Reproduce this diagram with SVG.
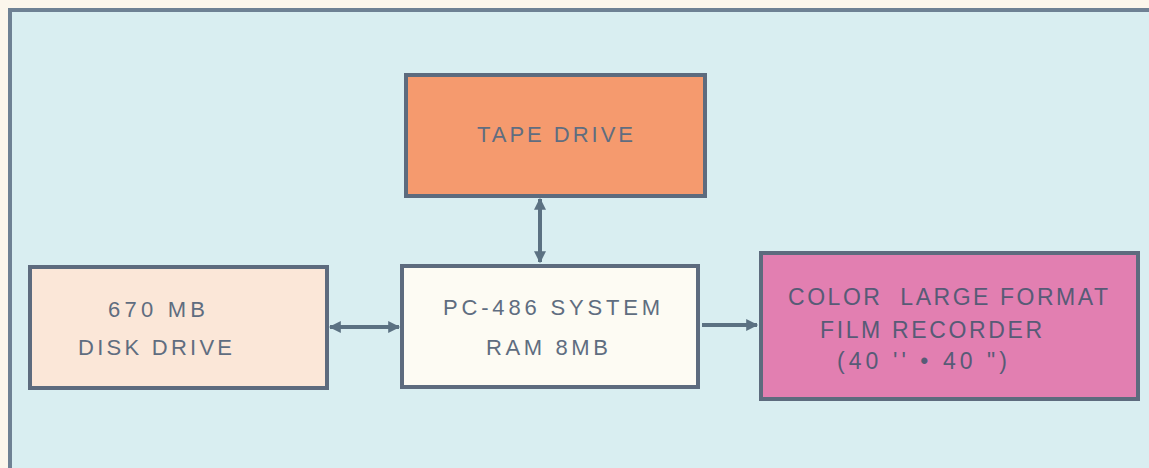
<svg xmlns="http://www.w3.org/2000/svg" width="1149" height="468" viewBox="0 0 1149 468">
<style>
.box{stroke:#5d6b7e;stroke-width:4}
.lbl{font-family:"Liberation Sans",Arial,sans-serif;font-size:22px;fill:#5f6d80;white-space:pre}
.dark{fill:#575b76;font-size:23px}
.con{stroke:#5b7182;stroke-width:4;fill:none}
</style>
<defs>
<marker id="ah" viewBox="0 0 10 10" refX="9" refY="5" markerWidth="3.2" markerHeight="3" orient="auto-start-reverse" markerUnits="strokeWidth">
<path d="M0,0 L10,5 L0,10 z" fill="#5b7182"/>
</marker>
</defs>
<rect x="0" y="0" width="1149" height="468" fill="#fbf6ec"/>
<rect x="10" y="10" width="1200" height="520" fill="#d9eef1" stroke="#6e8194" stroke-width="4"/>
<g id="connectors">
<line class="con" x1="540" y1="199" x2="540" y2="262" marker-start="url(#ah)" marker-end="url(#ah)"/>
<line class="con" x1="330" y1="327" x2="399" y2="327" marker-start="url(#ah)" marker-end="url(#ah)"/>
<line class="con" x1="702" y1="325" x2="757" y2="325" marker-end="url(#ah)"/>
</g>
<g id="tape">
<rect class="box" x="406" y="75" width="299" height="121" fill="#f59a6e"/>
<text class="lbl" x="477" y="142" textLength="156" lengthAdjust="spacing">TAPE DRIVE</text>
</g>
<g id="disk">
<rect class="box" x="30" y="267" width="297" height="121" fill="#fbe7d8"/>
<text class="lbl" x="108" y="317" textLength="97" lengthAdjust="spacing">670 MB</text>
<text class="lbl" x="78" y="355" textLength="154" lengthAdjust="spacing">DISK DRIVE</text>
</g>
<g id="pc">
<rect class="box" x="402" y="266" width="296" height="121" fill="#fdfbf3"/>
<text class="lbl" x="443" y="315" textLength="217" lengthAdjust="spacing">PC-486 SYSTEM</text>
<text class="lbl" x="486" y="355" textLength="122" lengthAdjust="spacing">RAM 8MB</text>
</g>
<g id="film">
<rect class="box" x="761" y="253" width="377" height="146" fill="#e27fb1"/>
<text class="lbl dark" x="788" y="305" textLength="320" lengthAdjust="spacing">COLOR  LARGE FORMAT</text>
<text class="lbl dark" x="820" y="338" textLength="222" lengthAdjust="spacing">FILM RECORDER</text>
<text class="lbl dark" x="837" y="369" textLength="170" lengthAdjust="spacing">(40 '' • 40 ")</text>
</g>
</svg>
